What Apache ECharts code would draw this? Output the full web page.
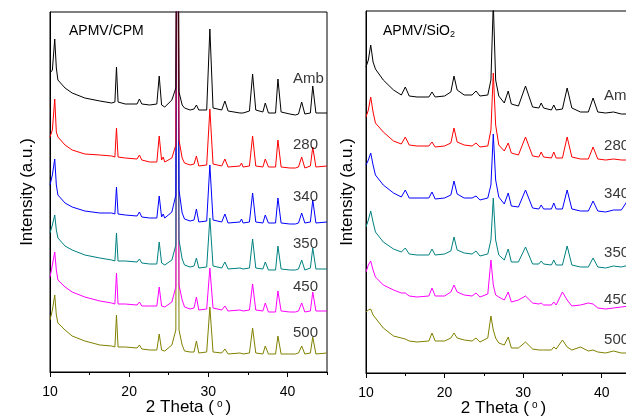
<!DOCTYPE html>
<html>
<head>
<meta charset="utf-8">
<script src="https://cdn.jsdelivr.net/npm/echarts@6/dist/echarts.min.js"></script>
<style>
html,body{margin:0;padding:0;background:#fff;}
#chart{width:626px;height:417px;}
</style>
</head>
<body>
<div id="chart"></div>
<script>
// ---------- DATA ----------
const sampleLabels = ['Amb', '280', '340', '350', '450', '500'];

// APMV/CPM panel: 2θ positions and stacked intensities (a.u.)
const thetaCPM = [10.0,10.3,10.6,10.8,11.0,11.9,12.8,14.4,16.3,17.8,
  18.2,18.4,18.6,19.5,21.0,21.3,21.6,22.6,23.5,23.8,
  24.1,24.3,24.5,25.4,25.9,26.1,26.3,26.7,27.0,27.7,
  28.2,28.5,28.8,29.8,30.2,30.6,31.7,32.1,32.5,34.0,
  34.2,34.4,35.2,35.6,36.0,36.9,37.2,37.6,38.5,38.8,
  39.2,40.3,41.0,41.4,41.8,42.2,42.9,43.2,43.6,45.0];
const cpmAmb = [299,302,333,304,292,284,279,274,271,269, 270,305,270,268,268,273,268,267,268,296, 267,269,265,272,284,700,280,267,264,262, 263,267,262,262,343,264,262,271,261,259, 260,259,261,298,262,260,269,259,259,293, 260,258,257,258,270,258,259,286,259,259];
const cpm280 = [235,242,273,240,235,227,222,218,217,216, 215,244,215,214,213,217,212,210,210,236, 212,215,210,214,227,700,232,214,209,207, 208,216,206,207,263,208,206,213,205,206, 209,205,206,236,206,205,213,205,205,232, 205,204,204,205,215,204,206,225,205,206];
const cpm340 = [187,197,213,187,177,169,165,161,159,159, 158,185,158,157,156,160,155,154,154,176, 155,158,154,160,177,700,182,159,153,151, 152,163,150,151,207,152,150,158,149,150, 153,149,150,179,150,149,157,149,149,174, 149,148,148,149,159,149,150,172,149,150];
const cpm350 = [139,147,157,142,134,126,122,117,114,112, 111,139,111,111,110,113,109,108,108,130, 109,111,107,112,127,700,132,113,107,105, 106,114,104,105,154,106,104,110,103,104, 106,103,104,133,104,103,110,102,102,126, 103,102,102,103,112,102,104,124,103,103];
const cpm450 = [95,107,120,102,92,85,80,75,71,69, 68,99,68,68,67,70,66,66,66,85, 66,68,65,70,85,700,87,72,65,63, 64,75,62,63,104,64,62,66,61,62, 64,61,62,88,62,61,69,60,60,81, 61,60,60,61,69,60,61,80,61,61];
const cpm500 = [52,62,77,57,49,42,36,31,27,26, 25,57,25,25,24,27,23,22,22,38, 22,24,21,27,42,700,42,27,21,20, 20,31,19,20,65,20,19,23,18,19, 21,18,19,44,19,18,26,18,18,36, 18,18,18,19,26,18,19,35,18,19];

// APMV/SiO2 panel
const thetaSiO2 = [10.0,10.3,10.6,10.9,11.2,12.2,13.5,14.5,15.0,15.5,
  16.5,18.0,18.4,18.8,20.0,20.8,21.2,21.6,22.5,23.5,
  24.0,24.5,25.5,25.9,26.2,26.5,26.9,27.6,28.1,28.5,
  29.4,30.3,31.2,32.0,32.3,32.6,33.6,33.9,34.2,35.0,
  35.6,36.2,37.3,38.3,38.9,39.5,40.5,41.5,42.5,43.5,
  45.0];
const sioAmb = [306,313,328,311,304,293,283,278,286,277, 276,276,281,276,277,281,297,283,278,278, 282,277,278,293,370,293,277,270,282,269, 267,287,266,265,270,265,263,268,263,264, 285,265,261,261,275,261,260,261,259,259, 259];
const sio280 = [256,263,276,261,250,241,232,229,236,228, 227,227,231,226,227,230,245,231,228,227, 230,226,227,243,300,248,228,222,230,220, 218,236,217,216,221,216,215,221,215,215, 236,216,214,214,226,214,213,214,213,213, 213];
const sio340 = [208,213,220,208,198,188,180,176,183,175, 175,175,181,174,175,178,192,179,175,175, 177,173,175,188,239,193,176,169,180,167, 166,183,165,164,168,164,164,170,164,164, 183,164,162,162,172,162,161,163,163,175, 161];
const sio350 = [146,153,162,151,141,131,124,121,125,119, 118,118,124,118,119,122,136,123,120,119, 122,117,119,133,175,133,118,113,124,111, 111,126,109,109,112,109,108,113,108,108, 127,108,106,106,115,106,105,107,106,108, 107];
const sio450 = [101,108,112,103,96,88,83,80,80,77, 76,77,85,77,77,81,88,81,78,77, 80,76,79,113,88,78,76,73,81,71, 73,77,70,69,70,68,68,71,68,81, 73,67,68,70,69,65,64,65,66,67, 66];
const sio500 = [61,63,64,58,55,45,37,35,34,32, 31,32,40,32,32,35,40,35,33,32, 35,31,35,57,43,35,30,28,36,25, 25,31,24,23,23,23,23,26,24,33, 26,23,26,22,23,21,20,22,20,20, 20];

// label anchors (data units)
const labelThetaCPM = 40.7;
const labelLevelsCPM = [293, 227, 175, 128, 85, 39];
const labelThetaSiO2 = 40.3;
const labelLevelsSiO2 = [277, 227, 179, 120, 73, 33];

// ---------- CHART ----------
const FONT = '"Liberation Sans", Arial, sans-serif';
const colors = ['#000000', '#ff0000', '#0000ff', '#008080', '#ff00ff', '#808000'];
const cpmSets = [cpmAmb, cpm280, cpm340, cpm350, cpm450, cpm500];
const sioSets = [sioAmb, sio280, sio340, sio350, sio450, sio500];

function pairs(xs, ys) { return xs.map((x, i) => [x, ys[i]]); }

function majorX(grid) {
  return {
    gridIndex: grid, type: 'value', min: 10, max: 45, interval: 10, position: 'bottom',
    axisLine: {show: true, onZero: false, lineStyle: {color: '#000', width: 1}},
    axisTick: {show: true, inside: false, length: 5, lineStyle: {color: '#000', width: 1}},
    axisLabel: {show: true, color: '#000', fontSize: 14, fontFamily: FONT, margin: 13, showMaxLabel: false},
    splitLine: {show: false},
    name: '2 Theta ({sup|o})', nameLocation: 'middle', nameGap: 27, nameMoveOverlap: false,
    nameTextStyle: {color: '#000', fontSize: 17, fontFamily: FONT,
      rich: {sup: {fontSize: 10, fontFamily: FONT, color: '#000', verticalAlign: 'top', padding: [0, 3, 0, 3]}}}
  };
}
function minorX(grid) {
  return {
    gridIndex: grid, type: 'value', min: 10, max: 45, interval: 5, position: 'bottom',
    axisLine: {show: false, onZero: false},
    axisTick: {show: true, inside: false, length: 3, lineStyle: {color: '#000', width: 1}},
    axisLabel: {show: false}, splitLine: {show: false}
  };
}
function yAx(grid, max, gap) {
  return {
    gridIndex: grid, type: 'value', min: 0, max: max,
    axisLine: {show: true, lineStyle: {color: '#000', width: 1}},
    axisTick: {show: false}, axisLabel: {show: false}, splitLine: {show: false},
    name: 'Intensity (a.u.)', nameLocation: 'middle', nameGap: gap, nameMoveOverlap: false,
    nameTextStyle: {color: '#000', fontSize: 17, fontFamily: FONT}
  };
}

const series = [];
cpmSets.forEach((ys, i) => series.push({
  type: 'line', name: 'CPM ' + sampleLabels[i], xAxisIndex: 0, yAxisIndex: 0,
  data: pairs(thetaCPM, ys), showSymbol: false, symbol: 'none', clip: true,
  lineStyle: {color: colors[i], width: 1}, itemStyle: {color: colors[i]}, z: 2 + (5 - i) * 0.01
}));
sioSets.forEach((ys, i) => series.push({
  type: 'line', name: 'SiO2 ' + sampleLabels[i], xAxisIndex: 2, yAxisIndex: 1,
  data: pairs(thetaSiO2, ys), showSymbol: false, symbol: 'none', clip: true,
  lineStyle: {color: colors[i], width: 1}, itemStyle: {color: colors[i]}, z: 2 + (5 - i) * 0.01
}));
function labelSeries(xIdx, yIdx, theta, levels) {
  return {
    type: 'scatter', xAxisIndex: xIdx, yAxisIndex: yIdx, symbolSize: 0, silent: true, z: 5,
    data: sampleLabels.map((t, i) => ({name: t, value: [theta, levels[i]]})),
    label: {show: true, position: 'right', distance: 0, formatter: p => p.name,
      color: '#000', fontSize: 15, fontFamily: FONT}
  };
}
series.push(labelSeries(0, 0, labelThetaCPM, labelLevelsCPM));
series.push(labelSeries(2, 1, labelThetaSiO2, labelLevelsSiO2));

const option = {
  animation: false,
  backgroundColor: '#fff',
  title: [
    {text: 'APMV/CPM', left: 69, top: 24, padding: 0,
      textStyle: {color: '#000', fontSize: 14, fontWeight: 'normal', fontFamily: FONT}},
    {text: 'APMV/SiO{sub|2}', left: 383, top: 24, padding: 0,
      textStyle: {color: '#000', fontSize: 14, fontWeight: 'normal', fontFamily: FONT,
        rich: {sub: {fontSize: 9, fontFamily: FONT, color: '#000', verticalAlign: 'bottom', padding: [6, 0, 0, 0]}}}}
  ],
  grid: [
    {left: 50, top: 12, width: 277, height: 360, show: true, borderColor: '#000', borderWidth: 1,
      backgroundColor: 'transparent', containLabel: false, outerBoundsMode: 'none'},
    {left: 366, top: 11, width: 275, height: 362, show: true, borderColor: '#000', borderWidth: 1,
      backgroundColor: 'transparent', containLabel: false, outerBoundsMode: 'none'}
  ],
  xAxis: [majorX(0), minorX(0), majorX(1), minorX(1)],
  yAxis: [yAx(0, 360, 14), yAx(1, 362, 10)],
  series: series
};

const chart = echarts.init(document.getElementById('chart'), null, {renderer: 'canvas'});
chart.setOption(option);
</script>
</body>
</html>
